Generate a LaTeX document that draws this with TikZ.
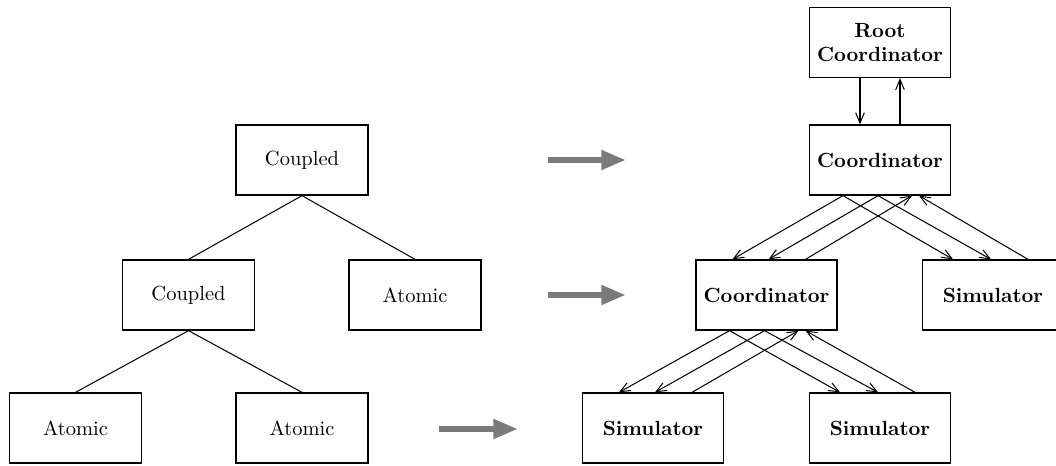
\documentclass[tikz,border=0pt]{standalone}
\usetikzlibrary{arrows.meta,calc}
\begin{document}
\begin{tikzpicture}[x=0.488pt,y=-0.488pt,
  modelbox/.style={draw,line width=0.8pt,rectangle,minimum width=64.4pt,minimum height=34pt,inner sep=2pt,font=\normalsize},
  simbox/.style={draw,line width=0.8pt,rectangle,minimum width=68.8pt,minimum height=34pt,inner sep=2pt,font=\bfseries,align=center},
  treeline/.style={line width=0.5pt},
  conn/.style={line width=0.5pt,-{Straight Barb[length=5pt,width=4.2pt]}},
  mapsto/.style={line width=3.4pt,black!52,-{Triangle[length=12pt,width=9pt]}}]
\useasboundingbox (0,0) rectangle (1056,466);
\clip (0,0) rectangle (1056,466);

% model hierarchy
\node[modelbox] (c1) at (302,160)   {Coupled};
\node[modelbox] (c2) at (188.5,295) {Coupled};
\node[modelbox] (a1) at (415,295)   {Atomic};
\node[modelbox] (a2) at (75.5,428)  {Atomic};
\node[modelbox] (a3) at (302,428)   {Atomic};
\draw[treeline] (c1.south) -- (c2.north);
\draw[treeline] (c1.south) -- (a1.north);
\draw[treeline] (c2.south) -- (a2.north);
\draw[treeline] (c2.south) -- (a3.north);

% mapping arrows
\coordinate (m1s) at (548,160); \coordinate (m1e) at (626,160);
\coordinate (m2s) at (548,295); \coordinate (m2e) at (626,295);
\coordinate (m3s) at (439,429); \coordinate (m3e) at (518,429);
\draw[mapsto] (m1s) -- (m1e);
\draw[mapsto] (m2s) -- (m2e);
\draw[mapsto] (m3s) -- (m3e);

% simulator hierarchy
\node[simbox] (root) at (880,42.5) {Root\\Coordinator};
\node[simbox] (k1) at (880,160)    {Coordinator};
\node[simbox] (k2) at (766.5,295)  {Coordinator};
\node[simbox] (s1) at (993,295)    {Simulator};
\node[simbox] (s2) at (653,428)    {Simulator};
\node[simbox] (s3) at (880,428)    {Simulator};

\draw[conn] ($(root.south)+(-20,0)$) -- ($(k1.north)+(-20,0)$);
\draw[conn] ($(k1.north)+(20,0)$) -- ($(root.south)+(20,0)$);

% coordinator k1 with its children
\draw[conn] ($(k1.south)+(-37,0)$) -- ($(k2.north)+(-34,0)$);
\draw[conn] ($(k1.south)+(-2,0)$)  -- ($(k2.north)+(2,0)$);
\draw[conn] ($(k2.north)+(39,0)$)  -- ($(k1.south)+(32,0)$);
\draw[conn] ($(k1.south)+(-37,0)$) -- ($(s1.north)+(-40,0)$);
\draw[conn] ($(k1.south)+(-2,0)$)  -- ($(s1.north)+(-2,0)$);
\draw[conn] ($(s1.north)+(35,0)$)  -- ($(k1.south)+(39,0)$);

% coordinator k2 with its children
\draw[conn] ($(k2.south)+(-37,0)$) -- ($(s2.north)+(-34,0)$);
\draw[conn] ($(k2.south)+(-2,0)$)  -- ($(s2.north)+(2,0)$);
\draw[conn] ($(s2.north)+(39,0)$)  -- ($(k2.south)+(32,0)$);
\draw[conn] ($(k2.south)+(-37,0)$) -- ($(s3.north)+(-40,0)$);
\draw[conn] ($(k2.south)+(-2,0)$)  -- ($(s3.north)+(-2,0)$);
\draw[conn] ($(s3.north)+(35,0)$)  -- ($(k2.south)+(39,0)$);
\end{tikzpicture}
\end{document}
